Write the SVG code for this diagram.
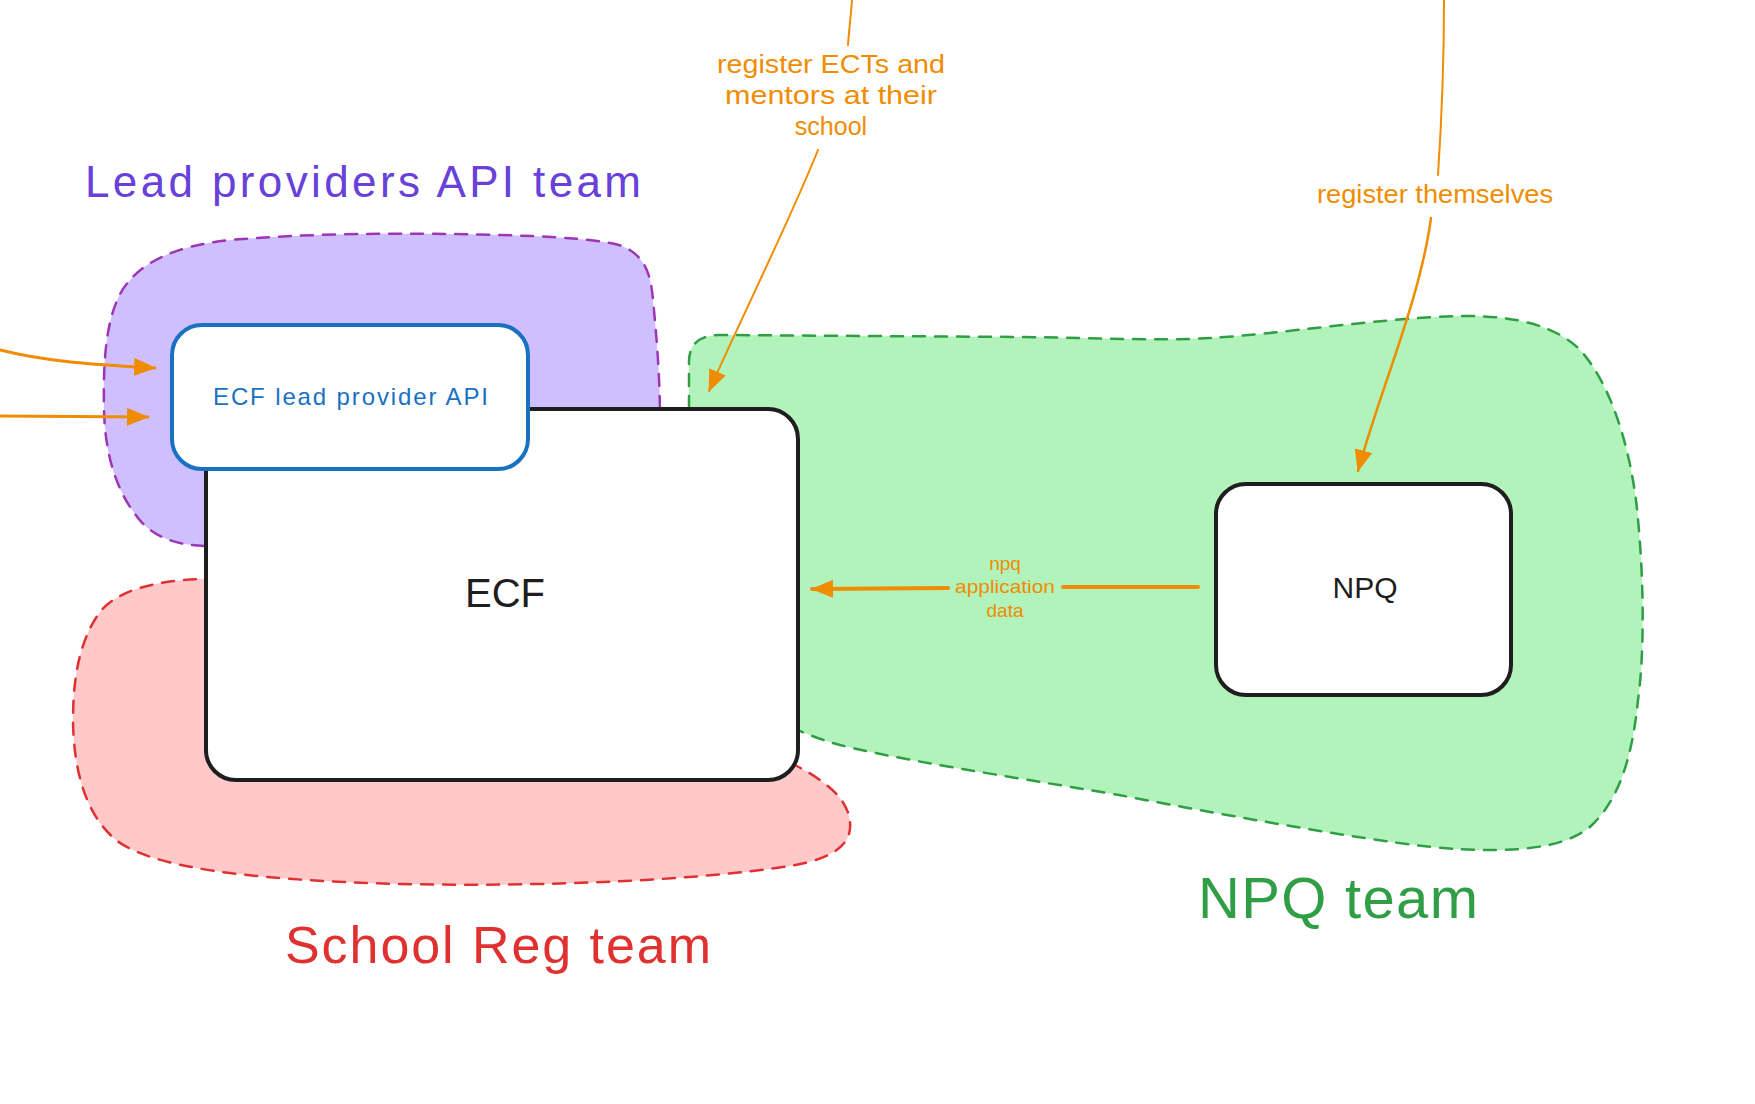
<svg xmlns="http://www.w3.org/2000/svg" width="1755" height="1104" viewBox="0 0 1755 1104">
<defs>
<marker id="ah" viewBox="0 0 22 18" refX="21" refY="9" markerWidth="22" markerHeight="18" markerUnits="userSpaceOnUse" orient="auto">
<path d="M0,0 L22,9 L0,18 Z" fill="#f08c00"/>
</marker>
<style>
.t{font-family:"Liberation Sans","DejaVu Sans",sans-serif;}
.zone{stroke-width:2.5;stroke-dasharray:12 10;stroke-linecap:round;}
.box{fill:#ffffff;stroke-width:4;}
.conn{fill:none;stroke:#f08c00;stroke-linecap:round;}
.lbl{fill:#f08c00;text-anchor:middle;}
</style>
</defs>
<rect width="1755" height="1104" fill="#ffffff"/>

<g id="zone-lead-providers">
<path class="zone" fill="#d0bfff" stroke="#9c36b5" d="M 204,546 C 175,545 152,536 138,518 C 114,488 105,450 104,410 C 103,360 106,322 120,294 C 138,262 175,246 230,240 C 300,234 380,233 450,234 C 530,235 598,238 622,246 C 646,256 651,276 653,300 C 657,340 660,380 660,420 L 660,520 L 300,560 L 230,552 Z"/>
<text class="t" x="85" y="197" font-size="44" fill="#6741d9" textLength="556" lengthAdjust="spacing">Lead providers API team</text>
</g>

<g id="zone-school-reg">
<path class="zone" fill="#ffc9c9" stroke="#e03131" d="M 240,578 L 200,579 C 150,581 116,592 100,612 C 78,642 73,682 73,722 C 74,772 86,815 116,840 C 152,868 250,880 400,884 C 550,887 700,880 790,866 C 838,858 852,842 850,822 C 848,802 833,785 795,765 L 700,700 L 300,700 L 240,620 Z"/>
<text class="t" x="285" y="963" font-size="52" fill="#e03131" textLength="426" lengthAdjust="spacing">School Reg team</text>
</g>

<g id="zone-npq">
<path class="zone" fill="#b2f2bb" stroke="#2f9e44" d="M 689,430 L 689,362 C 689,345 698,336 718,335 L 1023,337 C 1100,338 1160,341 1210,338 C 1280,334 1380,318 1460,316 C 1520,315 1560,328 1582,352 C 1610,385 1628,440 1636,500 C 1644,570 1645,650 1638,700 C 1632,760 1618,800 1592,825 C 1565,850 1510,852 1455,849 C 1400,846 1250,820 1119,795 C 1000,775 900,760 840,745 C 815,738 805,733 790,727 L 750,700 L 750,430 Z"/>
<text class="t" x="1198" y="918" font-size="58" fill="#2f9e44" textLength="280" lengthAdjust="spacing">NPQ team</text>
</g>

<g id="node-ecf">
<rect class="box" x="206" y="409" width="592" height="371" rx="30" stroke="#1e1e1e"/>
<text class="t" x="505" y="607" font-size="40" fill="#1e1e1e" text-anchor="middle">ECF</text>
</g>

<g id="node-ecf-lp-api">
<rect class="box" x="172" y="325" width="356" height="144" rx="30" stroke="#1971c2"/>
<text class="t" x="213" y="405" font-size="24" fill="#1971c2" textLength="275" lengthAdjust="spacing">ECF lead provider API</text>
</g>

<g id="node-npq">
<rect class="box" x="1216" y="484" width="295" height="211" rx="30" stroke="#1e1e1e"/>
<text class="t" x="1365" y="598" font-size="30" fill="#1e1e1e" text-anchor="middle">NPQ</text>
</g>

<g id="connectors">
<path class="conn" stroke-width="2" d="M 852,0 C 851,15 849,30 848,45"/>
<path class="conn" stroke-width="2" marker-end="url(#ah)" d="M 818,150 C 790,220 745,310 709,391"/>
<text class="t lbl" x="831" y="73" font-size="25" textLength="228" lengthAdjust="spacingAndGlyphs">register ECTs and</text>
<text class="t lbl" x="831" y="104" font-size="25" textLength="212" lengthAdjust="spacingAndGlyphs">mentors at their</text>
<text class="t lbl" x="831" y="135" font-size="25">school</text>

<path class="conn" stroke-width="2" d="M 1444,0 C 1444,60 1441,130 1438,175"/>
<path class="conn" stroke-width="2.5" marker-end="url(#ah)" d="M 1431,218 C 1420,300 1380,390 1358,471"/>
<text class="t lbl" x="1435" y="203" font-size="25" textLength="236" lengthAdjust="spacingAndGlyphs">register themselves</text>

<path class="conn" stroke-width="3" marker-end="url(#ah)" d="M 0,350 C 40,360 80,364 155,368"/>
<path class="conn" stroke-width="3" marker-end="url(#ah)" d="M 0,416 L 148,417"/>

<path class="conn" stroke-width="4" d="M 1198,587 L 1063,587"/>
<path class="conn" stroke-width="4" marker-end="url(#ah)" d="M 948,588 L 812,589"/>
<text class="t lbl" x="1005" y="570" font-size="19">npq</text>
<text class="t lbl" x="1005" y="593" font-size="19" textLength="100" lengthAdjust="spacingAndGlyphs">application</text>
<text class="t lbl" x="1005" y="617" font-size="19">data</text>
</g>
</svg>
